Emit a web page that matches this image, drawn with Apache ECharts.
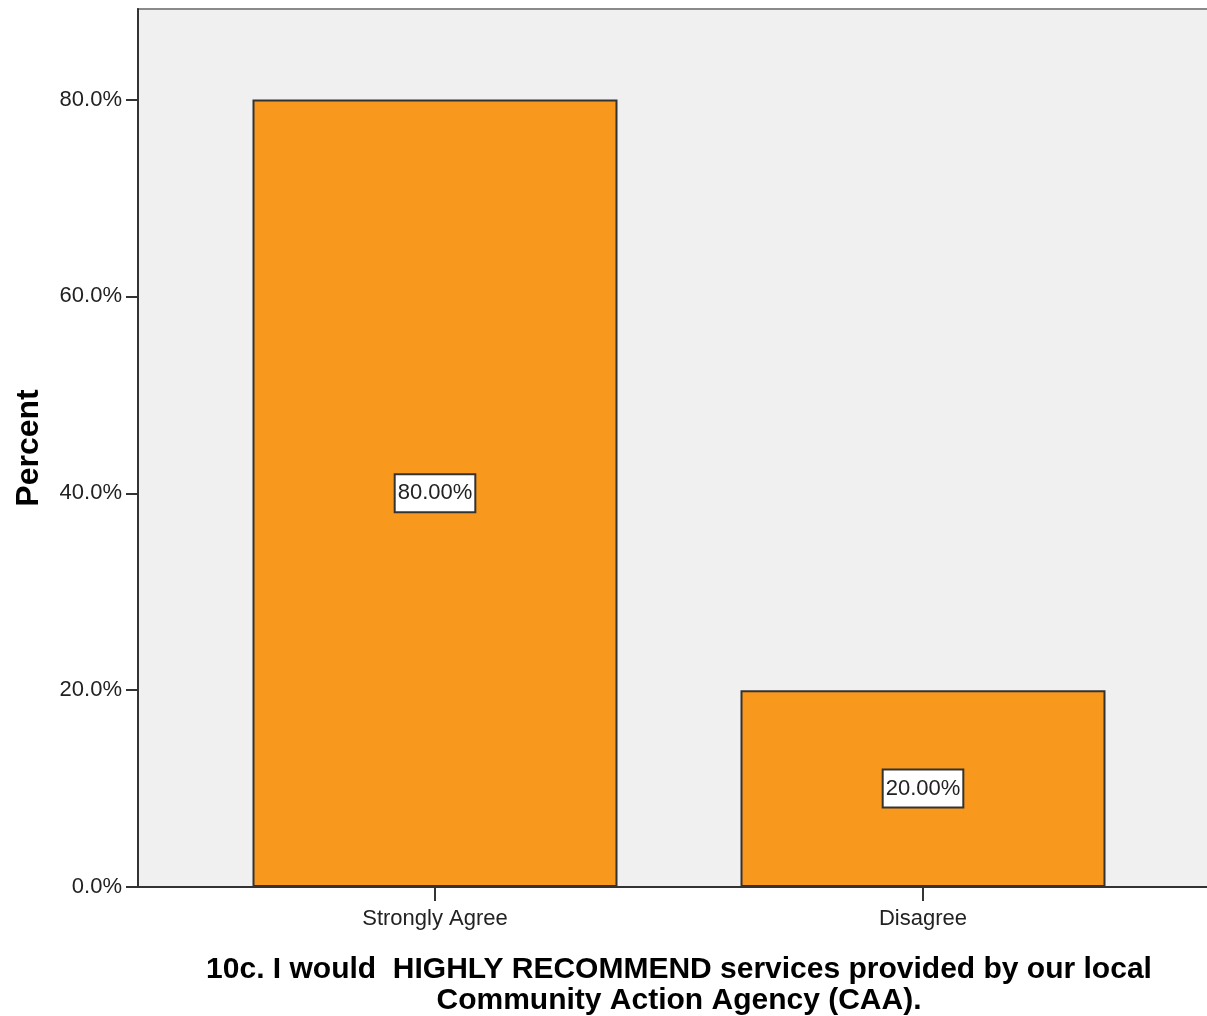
<!DOCTYPE html>
<html>
<head>
<meta charset="utf-8">
<script src="https://cdn.jsdelivr.net/npm/echarts@6/dist/echarts.min.js"></script>
<style>html,body{margin:0;padding:0;background:#fff;}#c{width:1207px;height:1016px;}</style>
</head>
<body>
<div id="c"></div>
<script>
const categories = ['Strongly Agree', 'Disagree'];
const percentValues = [80, 20];
const yTicks = [0, 20, 40, 60, 80];
const yAxisTitle = 'Percent';
const xAxisTitle = '10c. I would  HIGHLY RECOMMEND services provided by our local\nCommunity Action Agency (CAA).';

const YMAX = 89.2;
const chart = echarts.init(document.getElementById('c'), null, {renderer: 'canvas'});
const font = 'Arial, "Liberation Sans", sans-serif';
chart.setOption({
  animation: false,
  grid: [
    {left: 138, top: 9, right: -20, bottom: 129, show: true, backgroundColor: '#f0f0f0',
      borderWidth: 2, borderColor: '#8a8a8a', containLabel: false, outerBoundsMode: 'none'},
    {left: 191, top: 9, width: 976, bottom: 129, containLabel: false, outerBoundsMode: 'none'}
  ],
  xAxis: [
    {gridIndex: 0, type: 'value', min: 0, max: 1, position: 'bottom',
      axisLine: {show: true, onZero: false, lineStyle: {color: '#333', width: 2}},
      axisTick: {show: false}, axisLabel: {show: false}, splitLine: {show: false}},
    {gridIndex: 1, type: 'category', data: categories, boundaryGap: true,
      axisLine: {show: false},
      axisTick: {show: true, alignWithLabel: true, length: 14, lineStyle: {color: '#333', width: 2}},
      axisLabel: {fontFamily: font, fontSize: 22, color: '#222', margin: 21},
      name: xAxisTitle, nameLocation: 'middle', nameGap: 67,
      nameTextStyle: {fontFamily: font, fontSize: 30, fontWeight: 'bold', color: '#000', lineHeight: 31}}
  ],
  yAxis: [
    {gridIndex: 0, type: 'value', min: 0, max: YMAX,
      axisLine: {show: true, lineStyle: {color: '#333', width: 2}},
      axisTick: {show: true, length: 12, customValues: yTicks, lineStyle: {color: '#333', width: 2}},
      axisLabel: {customValues: yTicks, fontFamily: font, fontSize: 22, color: '#222', margin: 16,
        padding: [5, 0, 0, 0], formatter: v => v.toFixed(1) + '%'},
      splitLine: {show: false},
      name: yAxisTitle, nameLocation: 'middle', nameGap: 93, nameRotate: 90,
      nameTextStyle: {fontFamily: font, fontSize: 32, fontWeight: 'bold', color: '#000'}},
    {gridIndex: 1, type: 'value', min: 0, max: YMAX, show: false}
  ],
  series: [{
    type: 'bar', xAxisIndex: 1, yAxisIndex: 1, data: percentValues, barWidth: 365,
    itemStyle: {color: '#f8981d', borderColor: '#333', borderWidth: 2},
    label: {show: true, position: 'inside', formatter: p => p.value.toFixed(2) + '%',
      fontFamily: font, fontSize: 22, color: '#222', backgroundColor: '#fff',
      borderColor: '#333', borderWidth: 2, padding: [8, 2, 6, 2]}
  }]
});
</script>
</body>
</html>
